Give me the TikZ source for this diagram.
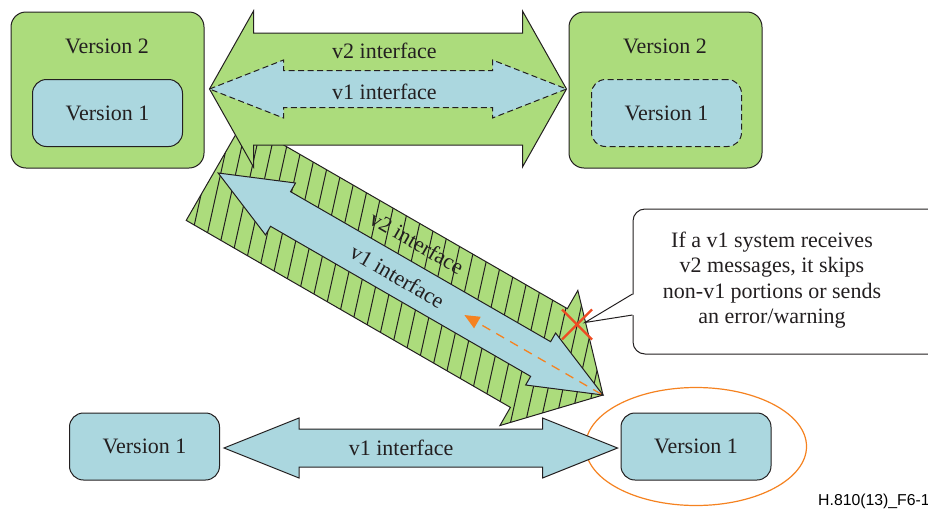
\documentclass[tikz,border=0pt]{standalone}
\usepackage{fontspec}
\setmainfont{Liberation Serif}
\newfontfamily\figsans{Liberation Sans}
\usetikzlibrary{calc,shapes.geometric,arrows.meta}
\definecolor{boxgreen}{RGB}{172,220,124}
\definecolor{boxblue}{RGB}{171,215,223}
\definecolor{inkgray}{RGB}{35,31,32}
\definecolor{markorange}{RGB}{245,130,32}
\definecolor{markred}{RGB}{238,75,35}
\tikzset{
	along/.style={shift={(\p1)},rotate=\n1},
	dblarrow/.style n args={3}{to path={
		let \p1=(\tikztostart), \p2=(\tikztotarget),
		\n1={atan2(\y2-\y1,\x2-\x1)}, \n2={veclen(\x2-\x1,\y2-\y1)} in
		-- ([along]#3pt,#2pt) -- ([along]#3pt,#1pt) -- ([along]\n2-#3pt,#1pt) -- ([along]\n2-#3pt,#2pt)
		-- (\tikztotarget) -- ([along]\n2-#3pt,-#2pt) -- ([along]\n2-#3pt,-#1pt)
		-- ([along]#3pt,-#1pt) -- ([along]#3pt,-#2pt) -- cycle}},
	sglarrow/.style n args={3}{to path={
		let \p1=(\tikztostart), \p2=(\tikztotarget),
		\n1={atan2(\y2-\y1,\x2-\x1)}, \n2={veclen(\x2-\x1,\y2-\y1)} in
		-- ([along]0pt,#1pt) -- ([along]\n2-#3pt,#1pt) -- ([along]\n2-#3pt,#2pt)
		-- (\tikztotarget) -- ([along]\n2-#3pt,-#2pt) -- ([along]\n2-#3pt,-#1pt)
		-- ([along]0pt,-#1pt) -- cycle}},
}
\begin{document}
\begin{tikzpicture}[x=1pt,y=-1pt,
	every node/.style={font=\fontsize{22}{25.5}\selectfont, text=inkgray},
	gbox/.style={draw=inkgray, fill=boxgreen, line width=1pt, rounded corners=15pt, minimum width=193pt, minimum height=156pt},
	bbox/.style={draw=inkgray, fill=boxblue, line width=1pt, rounded corners=14pt, minimum width=150pt, minimum height=67pt},
	fatgreen/.style={draw=inkgray, fill=boxgreen, line width=1pt},
	fatblue/.style={draw=inkgray, fill=boxblue, line width=1pt}]
	\useasboundingbox (0,0) rectangle (928,509);

	\begin{scope}[every node/.append style={inner sep=0pt}]
	\node[gbox] (v2l) at (107.5,90) {};
	\node[gbox] (v2r) at (665.5,90) {};
	\node (v2ltxt) at (107,46) {Version 2};
	\node (v2rtxt) at (665,46) {Version 2};
	\node[bbox] (v1l) at (107.5,113) {Version 1};
	\node[bbox, dash pattern=on 6pt off 3.5pt] (v1r) at (666.5,113) {Version 1};
	\end{scope}

	\coordinate (dg0) at ($(v2l.south east)+(10.2,2.5)$);
	\coordinate (dgt) at (603,395);
	\coordinate (db1) at ($(dg0)!4pt!(dgt)$);
	\draw[fatgreen] (dg0) to[sglarrow={57}{78}{74}] (dgt);
	\begin{scope}
	\clip (dg0) to[sglarrow={57}{78}{74}] (dgt);
	\foreach \hx in {110,125,...,650}
		\draw[inkgray, line width=1pt] (\hx,470) -- ++(82,-370);
	\end{scope}
	\draw[fatblue] (db1) to[dblarrow={20}{30}{72}] (dgt);
	\coordinate (dmid) at ($(db1)!0.466!(dgt)$);
	\node[rotate=-30] (dv1) at (dmid) {v1 interface};
	\node[rotate=-30] (dv2) at ($(dmid)!39pt!90:(dgt)$) {v2 interface};
	\coordinate (oend) at ($(dgt)!160pt!(dg0)$);
	\draw[markorange, line width=1.3pt, dash pattern=on 9pt off 7pt, -{Triangle[length=15pt,width=13pt]}] ($(dgt)+(-2,-1)$) -- (oend);

	\coordinate (ta1) at ($(v2l.east)+(5,-1)$);
	\coordinate (ta2) at ($(v2r.west)+(-2,-1)$);
	\draw[fatgreen] (ta1) to[dblarrow={56}{78}{44}] (ta2);
	\draw[fatblue, dash pattern=on 6pt off 3.5pt] (ta1) to[dblarrow={18.5}{29}{74}] (ta2);
	\node (tv2) at ($(ta1)!0.49!(ta2)+(0,-38)$) {v2 interface};
	\node (tv1) at ($(ta1)!0.49!(ta2)+(0,3)$) {v1 interface};

	\begin{scope}[every node/.append style={inner sep=0pt}]
	\node[bbox] (v1a) at (144.5,446.5) {Version 1};
	\node[bbox] (v1b) at (696,446.5) {Version 1};
	\end{scope}
	\node[ellipse, draw=markorange, line width=1.2pt, minimum width=221pt, minimum height=118pt] (ring) at (v1b) {};
	\coordinate (ba1) at ($(v1a.east)+(4,1.5)$);
	\coordinate (ba2) at ($(v1b.west)+(-3,1.5)$);
	\draw[fatblue] (ba1) to[dblarrow={19}{30}{75}] (ba2);
	\node (bv1) at ($(ba1)!0.45!(ba2)$) {v1 interface};

	\node[draw=inkgray, fill=white, line width=1pt, rounded corners=12pt, minimum width=312pt, minimum height=145pt] (note) at (789,281.5) {};
	\node[align=center] (notetxt) at (772,280) {If a v1 system receives\\v2 messages, it skips\\non-v1 portions or sends\\an error/warning};
	\coordinate (xmk) at (577,324.5);
	\coordinate (ptip) at ($(xmk)+(8,-2)$);
	\draw[markred, line width=2.2pt] ($(xmk)+(-15,-15)$) -- ($(xmk)+(15,15)$) ($(xmk)+(15,-15)$) -- ($(xmk)+(-15,15)$);
	\fill[white] ($(note.west)+(2,12.5)$) -- (ptip) -- ($(note.west)+(2,33.5)$) -- cycle;
	\draw[inkgray, line width=1pt] ($(note.west)+(0,12.5)$) -- (ptip) -- ($(note.west)+(0,33.5)$);

	\node[font=\figsans\fontsize{15.8}{17}\selectfont, text=black, anchor=base west, inner sep=0pt] (figid) at (818,505) {H.810(13)\_F6-1};
\end{tikzpicture}
\end{document}
